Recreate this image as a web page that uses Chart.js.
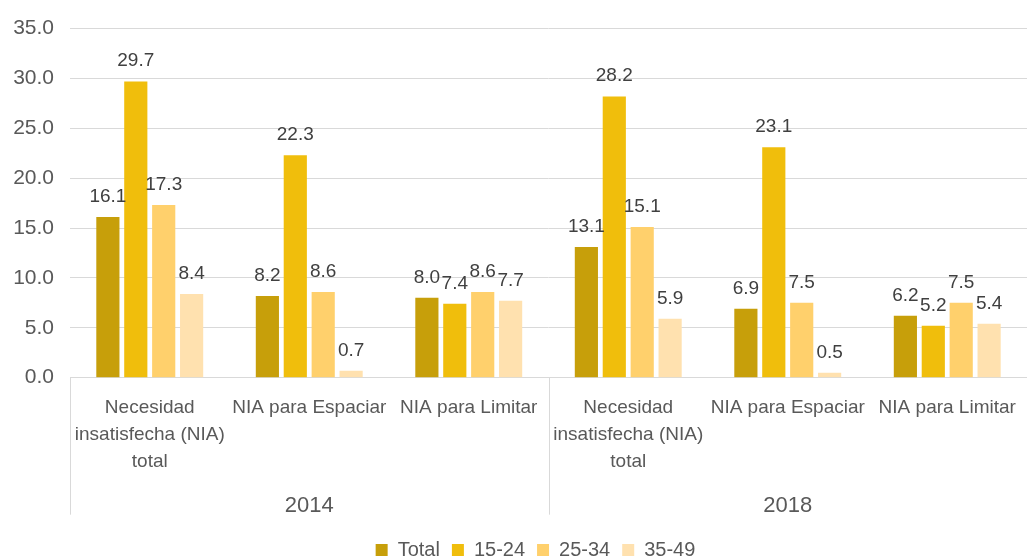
<!DOCTYPE html>
<html>
<head>
<meta charset="utf-8">
<script src="https://cdn.jsdelivr.net/npm/chart.js@4.4.1/dist/chart.umd.min.js"></script>
<style>
  html, body { margin: 0; padding: 0; background: #ffffff; }
  #wrap { width: 1027px; height: 557px; }
</style>
</head>
<body>
<div id="wrap"><canvas id="c" width="1027" height="557"></canvas></div>
<script>
const categories = [
  ['Necesidad', 'insatisfecha (NIA)', 'total'], 'NIA para Espaciar', 'NIA para Limitar',
  ['Necesidad', 'insatisfecha (NIA)', 'total'], 'NIA para Espaciar', 'NIA para Limitar'
];
const years = ['2014', '2018'];
const seriesNames = ['Total', '15-24', '25-34', '35-49'];
const totalVals = [16.1, 8.2, 8.0, 13.1, 6.9, 6.2];
const age1524 = [29.7, 22.3, 7.4, 28.2, 23.1, 5.2];
const age2534 = [17.3, 8.6, 8.6, 15.1, 7.5, 7.5];
const age3549 = [8.4, 0.7, 7.7, 5.9, 0.5, 5.4];
const yTicks = [0, 5, 10, 15, 20, 25, 30, 35];

const colors = ['#C79F0A', '#F0BE0C', '#FFD06C', '#FFE1AF'];
const textColor = '#595959';
const gridColor = '#D9D9D9';
const FONT = "'Liberation Sans', Arial, sans-serif";

const valueLabels = {
  id: 'valueLabels',
  afterDatasetsDraw(chart) {
    const ctx = chart.ctx;
    ctx.save();
    ctx.font = '19px ' + FONT;
    ctx.fillStyle = '#404040';
    ctx.textAlign = 'center';
    ctx.textBaseline = 'alphabetic';
    chart.data.datasets.forEach((ds, i) => {
      const meta = chart.getDatasetMeta(i);
      meta.data.forEach((bar, j) => {
        ctx.fillText(ds.data[j].toFixed(1), bar.x, bar.y - 15);
      });
    });
    ctx.restore();
  }
};

const dividers = {
  id: 'dividers',
  afterLayout(chart) {
    if (chart.legend) { chart.legend.left += 22; chart.legend.right += 22; }
  },
  afterDraw(chart) {
    const ctx = chart.ctx;
    const x = chart.scales.x;
    const top = chart.chartArea.bottom;
    const bottom = top + 137;
    const mid = (x.getPixelForValue(2) + x.getPixelForValue(3)) / 2;
    ctx.save();
    ctx.strokeStyle = gridColor;
    ctx.lineWidth = 1;
    [chart.chartArea.left, mid].forEach(px => {
      const p = Math.round(px) + 0.5;
      ctx.beginPath();
      ctx.moveTo(p, top);
      ctx.lineTo(p, bottom);
      ctx.stroke();
    });
    ctx.restore();
  }
};

const datasetsData = [totalVals, age1524, age2534, age3549];

new Chart(document.getElementById('c'), {
  type: 'bar',
  data: {
    labels: categories,
    datasets: seriesNames.map((name, i) => ({
      label: name,
      data: datasetsData[i],
      backgroundColor: colors[i],
      borderWidth: 0,
      categoryPercentage: 0.7,
      barPercentage: 0.83
    }))
  },
  options: {
    responsive: false,
    animation: false,
    devicePixelRatio: 1,
    layout: { padding: { top: 9, right: 0, left: 0, bottom: -13 } },
    plugins: {
      tooltip: { enabled: false },
      legend: {
        position: 'bottom',
        labels: {
          font: { family: FONT, size: 20 },
          color: textColor,
          boxWidth: 12,
          boxHeight: 12,
          padding: 12
        }
      }
    },
    scales: {
      y: {
        min: 0,
        max: 35,
        afterBuildTicks(scale) { scale.ticks = yTicks.map(v => ({ value: v })); },
        afterFit(scale) { scale.width = 70; },
        ticks: {
          color: textColor,
          font: { family: FONT, size: 21 },
          padding: 16,
          callback: v => Number(v).toFixed(1)
        },
        grid: { color: gridColor, drawTicks: false },
        border: { display: false }
      },
      x: {
        position: 'bottom',
        afterFit(scale) { scale.paddingRight = 0; scale.paddingLeft = 0; },
        grid: { display: false, drawTicks: false },
        border: { display: true, color: gridColor, width: 1 },
        ticks: {
          color: textColor,
          font: { family: FONT, size: 19, lineHeight: 1.42 },
          padding: 17,
          maxRotation: 0,
          minRotation: 0,
          autoSkip: false
        }
      },
      x2: {
        type: 'category',
        position: 'bottom',
        labels: years,
        offset: true,
        afterFit(scale) { scale.height += 9; },
        grid: { display: false, drawTicks: false },
        border: { display: false },
        ticks: {
          color: textColor,
          font: { family: FONT, size: 22 },
          padding: 0,
          maxRotation: 0,
          minRotation: 0
        }
      }
    }
  },
  plugins: [valueLabels, dividers]
});
</script>
</body>
</html>
